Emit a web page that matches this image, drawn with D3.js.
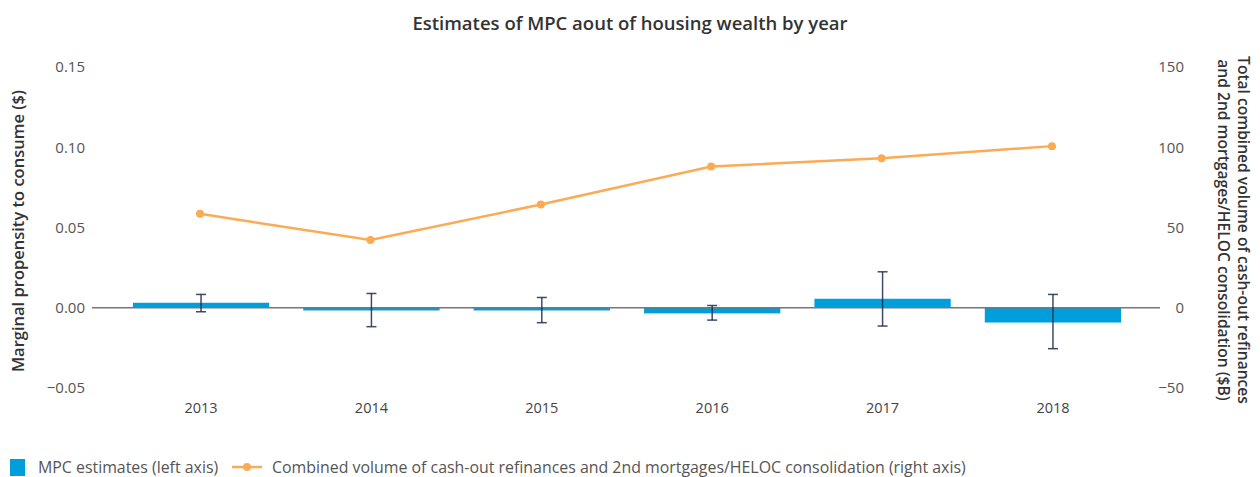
<!DOCTYPE html>
<html>
<head>
<meta charset="utf-8">
<script src="https://cdn.jsdelivr.net/npm/d3@7"></script>
<style>
    body { margin: 0; background: #fff; }
    svg { display: block; font-family: "Open Sans", sans-serif; }
</style>
</head>
<body>
<svg id="chart" width="1260" height="477"></svg>
<script>
// Data
const years = ["2013", "2014", "2015", "2016", "2017", "2018"];
const mpc = [0.0031, -0.0017, -0.0017, -0.0035, 0.0056, -0.0092];
const mpcHigh = [0.0083, 0.0089, 0.0064, 0.0014, 0.0224, 0.0083];
const mpcLow = [-0.0025, -0.0118, -0.0093, -0.0077, -0.0114, -0.0255];
const volume = [58.5, 42.2, 64.3, 88.0, 93.2, 100.7];
const leftTicks = [-0.05, 0, 0.05, 0.10, 0.15];
const rightTicks = [-50, 0, 50, 100, 150];

const svg = d3.select("#chart");

const x = d3.scaleBand()
    .domain(years)
    .range([92, 1162])
    .paddingInner(0.2)
    .paddingOuter(0.24);

const yLeft = d3.scaleLinear().domain([-0.05, 0.15]).range([388, 67]);
const yRight = d3.scaleLinear().domain([-50, 150]).range([388, 67]);

// Title
svg.append("text")
    .attr("x", 630)
    .attr("y", 30)
    .attr("text-anchor", "middle")
    .style("font-size", "18.5px")
    .style("font-weight", "600")
    .style("fill", "#333")
    .text("Estimates of MPC aout of housing wealth by year");

// Axes (labels only)
const fmtLeft = d => d3.format(".2f")(d).replace("-", "\u2212");
const leftAxis = svg.append("g")
    .attr("transform", "translate(85,0)")
    .call(d3.axisLeft(yLeft).tickValues(leftTicks).tickFormat(fmtLeft).tickSize(0).tickPadding(0));

const rightAxis = svg.append("g")
    .attr("transform", "translate(1184,0)")
    .call(d3.axisLeft(yRight).tickValues(rightTicks).tickFormat(d => String(d).replace("-", "\u2212")).tickSize(0).tickPadding(0));

const bottomAxis = svg.append("g")
    .attr("transform", "translate(0,400)")
    .call(d3.axisBottom(x).tickSize(0).tickPadding(0));

[leftAxis, rightAxis, bottomAxis].forEach(a => {
    a.select(".domain").remove();
    a.selectAll("text")
        .style("font-family", "Open Sans, sans-serif")
        .style("font-size", "15px")
        .style("fill", "#555");
});
bottomAxis.selectAll("text").attr("dy", "0.9em").style("font-size", "14.5px").style("fill", "#444");

// Axis titles
svg.append("text")
    .attr("transform", "translate(24,231) rotate(-90)")
    .attr("text-anchor", "middle")
    .style("font-size", "16.5px")
    .style("font-weight", "600")
    .style("fill", "#333")
    .text("Marginal propensity to consume ($)");

const rightTitle = svg.append("text")
    .attr("transform", "translate(1238,230) rotate(90)")
    .attr("text-anchor", "middle")
    .style("font-size", "15.6px")
    .style("font-weight", "600")
    .style("fill", "#333");
rightTitle.append("tspan")
    .attr("x", 0).attr("dy", "0em")
    .text("Total combined volume of cash-out refinances");
rightTitle.append("tspan")
    .attr("x", 0).attr("dy", "1.3em")
    .text("and 2nd mortgages/HELOC consolidation ($B)");

// Bars
svg.append("g")
    .attr("fill", "#009FDB")
    .selectAll("rect")
    .data(years)
    .join("rect")
    .attr("x", d => x(d))
    .attr("width", x.bandwidth())
    .attr("y", (d, i) => yLeft(Math.max(0, mpc[i])))
    .attr("height", (d, i) => Math.abs(yLeft(mpc[i]) - yLeft(0)));

// Zero line
svg.append("line")
    .attr("x1", 92)
    .attr("x2", 1160)
    .attr("y1", yLeft(0))
    .attr("y2", yLeft(0))
    .attr("stroke", "#777")
    .attr("stroke-width", 1.5);

// Error bars
const err = svg.append("g")
    .attr("stroke", "#1d2b4c")
    .attr("stroke-opacity", 0.85)
    .attr("stroke-width", 1.5)
    .selectAll("g")
    .data(years)
    .join("g")
    .attr("transform", d => `translate(${x(d) + x.bandwidth() / 2},0)`);

err.append("line")
    .attr("y1", (d, i) => yLeft(mpcHigh[i]))
    .attr("y2", (d, i) => yLeft(mpcLow[i]));
err.append("line")
    .attr("x1", -5).attr("x2", 5)
    .attr("y1", (d, i) => yLeft(mpcHigh[i]))
    .attr("y2", (d, i) => yLeft(mpcHigh[i]));
err.append("line")
    .attr("x1", -5).attr("x2", 5)
    .attr("y1", (d, i) => yLeft(mpcLow[i]))
    .attr("y2", (d, i) => yLeft(mpcLow[i]));

// Line series
const line = d3.line()
    .x((d, i) => x(years[i]) + x.bandwidth() / 2 - 1)
    .y(d => yRight(d));

svg.append("path")
    .datum(volume)
    .attr("fill", "none")
    .attr("stroke", "#FBAA55")
    .attr("stroke-width", 2.5)
    .attr("d", line);

svg.append("g")
    .attr("fill", "#FBAA55")
    .selectAll("circle")
    .data(volume)
    .join("circle")
    .attr("cx", (d, i) => x(years[i]) + x.bandwidth() / 2 - 1)
    .attr("cy", d => yRight(d))
    .attr("r", 4);

// Legend
const legend = svg.append("g");
legend.append("rect")
    .attr("x", 10).attr("y", 459)
    .attr("width", 15).attr("height", 17)
    .attr("fill", "#009FDB");
legend.append("text")
    .attr("x", 38).attr("y", 467)
    .attr("dy", "0.35em")
    .style("font-size", "15.9px")
    .style("fill", "#555")
    .text("MPC estimates (left axis)");
legend.append("line")
    .attr("x1", 232).attr("x2", 262)
    .attr("y1", 467).attr("y2", 467)
    .attr("stroke", "#FBAA55")
    .attr("stroke-width", 2.5);
legend.append("circle")
    .attr("cx", 247).attr("cy", 467).attr("r", 4)
    .attr("fill", "#FBAA55");
legend.append("text")
    .attr("x", 272).attr("y", 467)
    .attr("dy", "0.35em")
    .style("font-size", "15.9px")
    .style("fill", "#555")
    .text("Combined volume of cash-out refinances and 2nd mortgages/HELOC consolidation (right axis)");
</script>
</body>
</html>
